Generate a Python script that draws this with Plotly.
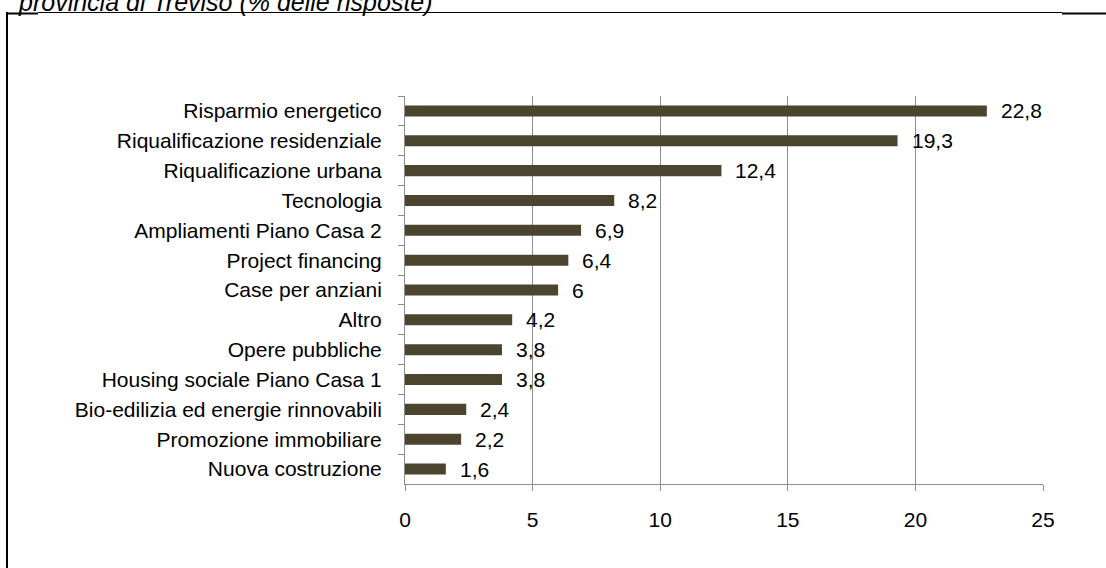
import plotly.graph_objects as go

# Survey answers (% of responses), top to bottom
categories = [
    "Risparmio energetico",
    "Riqualificazione residenziale",
    "Riqualificazione urbana",
    "Tecnologia",
    "Ampliamenti Piano Casa 2",
    "Project financing",
    "Case per anziani",
    "Altro",
    "Opere pubbliche",
    "Housing sociale Piano Casa 1",
    "Bio-edilizia ed energie rinnovabili",
    "Promozione immobiliare",
    "Nuova costruzione",
]
values = [22.8, 19.3, 12.4, 8.2, 6.9, 6.4, 6.0, 4.2, 3.8, 3.8, 2.4, 2.2, 1.6]
x_ticks = [0, 5, 10, 15, 20, 25]
title_text = "provincia di Treviso (% delle risposte)"

W, H = 1106, 568
ML, MR, MT, MB = 405, 63, 96, 84
PW, PH = W - ML - MR, H - MT - MB

FONT = "Liberation Sans, Arial, sans-serif"
FS = 21
BAR = "#4b4530"
GRID = "#8c8c8c"


def px_x(px):
    return (px - ML) / PW


def px_y(py):
    return (H - MB - py) / PH


def fmt(v):
    return f"{v:g}".replace(".", ",")


fig = go.Figure(
    go.Bar(
        x=values,
        y=categories,
        orientation="h",
        marker=dict(color=BAR, line=dict(width=0)),
        hoverinfo="skip",
    )
)

# value labels next to each bar end
for c, v in zip(categories, values):
    fig.add_annotation(
        x=v, y=c, xref="x", yref="y", text=fmt(v), showarrow=False,
        xanchor="left", yanchor="middle", xshift=12,
        font=dict(family=FONT, size=FS, color="#000"),
    )

# partially visible title above the frame
fig.add_annotation(
    x=px_x(16), y=px_y(2), xref="paper", yref="paper", text=title_text,
    showarrow=False, xanchor="left", yanchor="middle",
    font=dict(family=FONT, size=25, color="#000", style="italic"),
)

# outer frame
frame = [
    (7, 12, 7, 600, 2),
    (38, 12.5, 1062, 12.5, 1),
    (6, 13.5, 38, 13.5, 2),
    (1062, 13.5, 1110, 13.5, 2),
]
for x0, y0, x1, y1, w in frame:
    fig.add_shape(
        type="line", xref="paper", yref="paper",
        x0=px_x(x0), y0=px_y(y0), x1=px_x(x1), y1=px_y(y1),
        line=dict(color="#000", width=w),
    )

fig.update_layout(
    width=W, height=H,
    margin=dict(l=ML, r=MR, t=MT, b=MB, pad=0),
    paper_bgcolor="#fff", plot_bgcolor="#fff",
    bargap=0.63,
    showlegend=False,
    font=dict(family=FONT, size=FS, color="#000"),
)
fig.update_xaxes(
    range=[0, 25], tickvals=x_ticks, ticktext=[str(t) for t in x_ticks],
    showgrid=True, gridcolor=GRID, gridwidth=1,
    showline=True, linecolor=GRID, linewidth=1,
    ticks="outside", ticklen=6, tickcolor=GRID, tickwidth=1,
    ticklabelstandoff=11, zeroline=False,
    tickfont=dict(family=FONT, size=FS, color="#000"),
)
fig.update_yaxes(
    autorange="reversed", type="category",
    showgrid=False, showline=True, linecolor=GRID, linewidth=1,
    ticks="outside", ticklen=6, tickcolor=GRID, tickwidth=1,
    tickson="boundaries", ticklabelstandoff=18,
    tickfont=dict(family=FONT, size=FS, color="#000"),
)

fig.write_html("out.html")
